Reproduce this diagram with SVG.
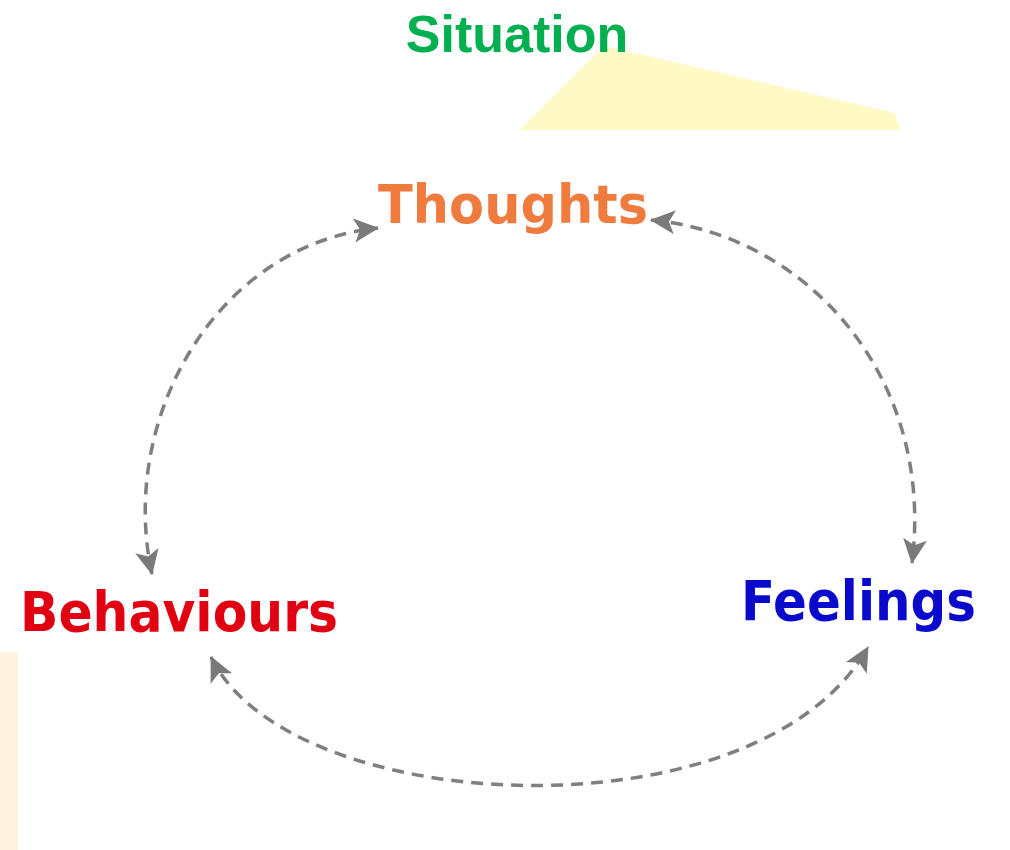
<svg xmlns="http://www.w3.org/2000/svg" width="1010" height="850" viewBox="0 0 1010 850">
  <style>
    .lbl { font-family: "DejaVu Sans", Verdana, sans-serif; font-weight: bold; }
    .conn { fill: none; stroke: #7f7f7f; stroke-width: 3.5; stroke-dasharray: 12 8; }
  </style>
  <defs>
    <marker id="arr" markerUnits="userSpaceOnUse" markerWidth="26" markerHeight="24" refX="24" refY="12" orient="auto-start-reverse" viewBox="0 0 26 24">
      <path d="M0,0 L25,12 L0,24 L6,12 z" fill="#7a7a7a"/>
    </marker>
  </defs>
  <rect width="1010" height="850" fill="#ffffff"/>
  <g id="background">
    <polygon points="520,130 604,46 895,113 900,130" fill="#FFF9C6"/>
    <rect x="0" y="652" width="18" height="198" fill="#FFF3DF"/>
  </g>
  <g id="situation">
    <text x="517" y="52" text-anchor="middle" font-family="Liberation Sans, Arial, sans-serif" font-weight="bold" font-size="52" fill="#00B050">Situation</text>
  </g>
  <g id="thoughts">
    <text class="lbl" x="378" y="223" font-size="53" textLength="270" lengthAdjust="spacingAndGlyphs" fill="#F07B3F">Thoughts</text>
  </g>
  <g id="behaviours">
    <text class="lbl" x="20" y="631" font-size="55" textLength="318" lengthAdjust="spacingAndGlyphs" fill="#E00012">Behaviours</text>
  </g>
  <g id="feelings">
    <text class="lbl" x="741" y="620" font-size="55" textLength="235" lengthAdjust="spacingAndGlyphs" fill="#0A0ACC">Feelings</text>
  </g>
  <g id="connectors">
    <path class="conn" d="M 152 574 C 118 420, 215 245, 378 228" marker-start="url(#arr)" marker-end="url(#arr)"/>
    <path class="conn" d="M 651 220 C 810 235, 935 380, 912 563" marker-start="url(#arr)" marker-end="url(#arr)"/>
    <path class="conn" d="M 211 657 C 290 820, 760 840, 868 647" marker-start="url(#arr)" marker-end="url(#arr)"/>
  </g>
</svg>
